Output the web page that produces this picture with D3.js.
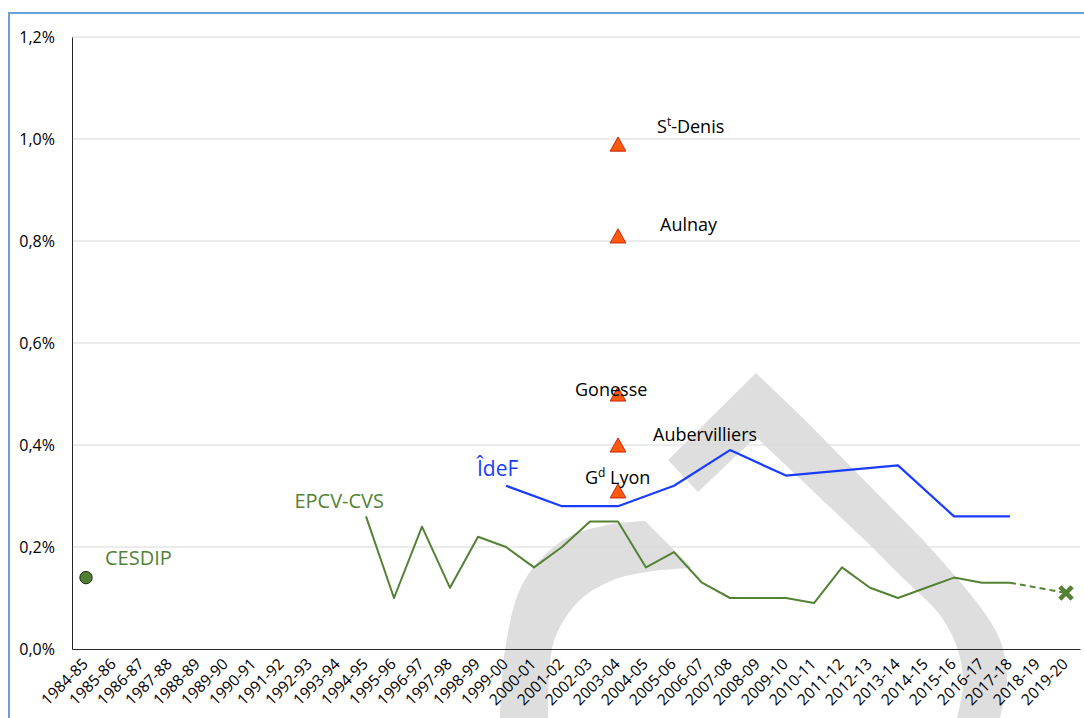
<!DOCTYPE html>
<html><head><meta charset="utf-8">
<script src="https://cdn.jsdelivr.net/npm/d3@7"></script>
<style>
body{margin:0;background:#fff}
svg{display:block}
text{font-family:"Open Sans",sans-serif}
.ytick{font-size:16px}
.xtick{font-size:15.5px}
</style>
</head><body>
<svg id="c" width="1084" height="718"></svg>
<script>
// ---------- data ----------
const years = ["1984-85","1985-86","1986-87","1987-88","1988-89","1989-90","1990-91","1991-92","1992-93","1993-94",
  "1994-95","1995-96","1996-97","1997-98","1998-99","1999-00","2000-01","2001-02","2002-03","2003-04",
  "2004-05","2005-06","2006-07","2007-08","2008-09","2009-10","2010-11","2011-12","2012-13","2013-14",
  "2014-15","2015-16","2016-17","2017-18","2018-19","2019-20"];
const yTicks = [0, 0.2, 0.4, 0.6, 0.8, 1.0, 1.2];

const cesdipYears = ["1984-85"];
const cesdipValues = [0.14];

const epcvYears = ["1994-95","1995-96","1996-97","1997-98","1998-99","1999-00","2000-01","2001-02","2002-03","2003-04",
  "2004-05","2005-06","2006-07","2007-08","2008-09","2009-10","2010-11","2011-12","2012-13","2013-14",
  "2014-15","2015-16","2016-17","2017-18"];
const epcvValues = [0.26,0.10,0.24,0.12,0.22,0.20,0.16,0.20,0.25,0.25,
  0.16,0.19,0.13,0.10,0.10,0.10,0.09,0.16,0.12,0.10,
  0.12,0.14,0.13,0.13];
const epcvForecastYears = ["2017-18","2019-20"];
const epcvForecastValues = [0.13, 0.11];

const idefYears = ["1999-00","2001-02","2003-04","2005-06","2007-08","2009-10","2013-14","2015-16","2017-18"];
const idefValues = [0.32,0.28,0.28,0.32,0.39,0.34,0.36,0.26,0.26];

const cityYear = "2003-04";
const cityMain = ["S","Aulnay","Gonesse","Aubervilliers","G"];
const citySup  = ["t","","","","d"];
const cityRest = ["-Denis","","",""," Lyon"];
const cityValues = [0.99,0.81,0.50,0.40,0.31];

// ---------- layout ----------
const svg = d3.select("#c");
const W = 1084, H = 718;
const x = d3.scaleBand().domain(years).range([72, 1080]);
const xc = d => x(d) + x.bandwidth()/2;
const y = d3.scaleLinear().domain([0, 1.2]).range([649, 37]);

const GREEN = "#548235", BLUE = "#1a3cff";

// frame
svg.append("rect").attr("x",0).attr("y",0).attr("width",W).attr("height",H).attr("fill","#fff");
svg.append("rect").attr("x",9).attr("y",13).attr("width",W+20).attr("height",H+20)
  .attr("fill","#fff").attr("stroke","#6a9fd8").attr("stroke-width",2);

// watermark (decorative)
const wm = svg.append("g").attr("fill","#dedede");
const cr = d3.line().curve(d3.curveCatmullRom);
const lin = d3.line();
function joinPaths(parts){ return parts.map((p,i)=> i===0 ? p : p.replace(/^M/,"L")).join("") + "Z"; }
wm.append("path").attr("d", joinPaths([
  cr([[500,718],[505,650],[523,583],[563,540],[607,525],[645,521]]),
  lin([[645,521],[692,568]]),
  cr([[692,568],[653,571],[613,580],[580,600],[557,633],[550,662],[548,718]])
]));
wm.append("path").attr("d", joinPaths([
  lin([[668,460],[756,373],[805,420],[923,540]]),
  cr([[923,540],[975,600],[1000,640],[1007,680],[1000,718]]),
  lin([[1000,718],[957,718]]),
  cr([[957,718],[963,685],[958,650],[940,615],[905,580],[872,547]]),
  lin([[872,547],[756,437],[698,492]])
]));

// gridlines
svg.append("g").selectAll("line").data(yTicks.filter(d=>d>0)).join("line")
  .attr("x1",72).attr("x2",1080).attr("y1",d=>y(d)).attr("y2",d=>y(d))
  .attr("stroke","#d9d9d9").attr("stroke-width",1);

// y axis
const ya = svg.append("g").attr("transform","translate(72,0)")
  .call(d3.axisLeft(y).tickValues(yTicks).tickSize(0).tickPadding(17)
    .tickFormat(d => d.toFixed(1).replace(".", ",") + "%"));
ya.attr("font-size",null).attr("font-family",null);
ya.select(".domain").attr("stroke","#262626").attr("stroke-width",1);
ya.selectAll(".tick text").attr("class","ytick").attr("fill","#000");

// x axis
const xa = svg.append("g").attr("transform","translate(0,649)")
  .call(d3.axisBottom(x).tickSize(0).tickSizeOuter(0));
xa.attr("font-size",null).attr("font-family",null);
xa.select(".domain").attr("stroke","#262626").attr("stroke-width",1.2);
xa.selectAll(".tick text").attr("class","xtick").attr("fill","#000")
  .attr("text-anchor","end").attr("dy",0).attr("y",0)
  .attr("transform","translate(3,16) rotate(-45)");

// EPCV-CVS line
const line = d3.line().x(d=>xc(d[0])).y(d=>y(d[1]));
svg.append("path").attr("d", line(epcvYears.map((d,i)=>[d,epcvValues[i]])))
  .attr("fill","none").attr("stroke",GREEN).attr("stroke-width",2).attr("stroke-linejoin","round");
svg.append("path").attr("d", line(epcvForecastYears.map((d,i)=>[d,epcvForecastValues[i]])))
  .attr("fill","none").attr("stroke",GREEN).attr("stroke-width",2).attr("stroke-dasharray","6,4");
// X marker at forecast end
const fx = xc(epcvForecastYears[1]), fy = y(epcvForecastValues[1]);
svg.append("path").attr("transform",`translate(${fx},${fy})`)
  .attr("d", d3.symbol().type(d3.symbolX).size(100)())
  .attr("stroke",GREEN).attr("stroke-width",4.5).attr("fill","none");

// ÎdeF line
svg.append("path").attr("d", line(idefYears.map((d,i)=>[d,idefValues[i]])))
  .attr("fill","none").attr("stroke",BLUE).attr("stroke-width",2.2).attr("stroke-linejoin","round");

// CESDIP point
svg.append("g").selectAll("circle").data(cesdipYears).join("circle")
  .attr("cx",d=>xc(d)).attr("cy",(d,i)=>y(cesdipValues[i])).attr("r",6.2)
  .attr("fill","#4f7f30").attr("stroke","#1e2a14").attr("stroke-width",1);

// city triangles
const tri = { draw(ctx, size){ const s = Math.sqrt(size); ctx.moveTo(0,-s*0.47); ctx.lineTo(s*0.52,s*0.47); ctx.lineTo(-s*0.52,s*0.47); ctx.closePath(); } };
svg.append("g").selectAll("path").data(cityValues).join("path")
  .attr("transform",d=>`translate(${xc(cityYear)},${y(d)})`)
  .attr("d", d3.symbol().type(tri).size(225)())
  .attr("fill","#ff5a0f").attr("stroke","#c8240a").attr("stroke-width",1);

// labels
const cityDx = [39, 42, -43, 35, -33];
const cityDy = [-11, -5, 2, -4, -7];
const lab = svg.append("g").attr("font-size",18).attr("fill","#000");
cityValues.forEach((v,i)=>{
  const t = lab.append("text").attr("x", xc(cityYear)+cityDx[i]).attr("y", y(v)+cityDy[i]);
  t.append("tspan").text(cityMain[i]);
  if (citySup[i]) t.append("tspan").attr("font-size",12).attr("dy",-7).text(citySup[i]);
  if (cityRest[i]) t.append("tspan").attr("dy", citySup[i] ? 7 : 0).text(cityRest[i]);
});
svg.append("text").attr("x", xc(idefYears[0]) - 29).attr("y", y(idefValues[0]) - 10)
  .attr("font-size",21).attr("fill",BLUE).text("ÎdeF");
svg.append("text").attr("x", xc(epcvYears[0]) + 18).attr("y", y(epcvValues[0]) - 8)
  .attr("text-anchor","end").attr("font-size",20).attr("fill",GREEN).text("EPCV-CVS");
svg.append("text").attr("x", xc(cesdipYears[0]) + 19).attr("y", y(cesdipValues[0]) - 13)
  .attr("font-size",20).attr("fill",GREEN).text("CESDIP");
</script>
</body></html>
